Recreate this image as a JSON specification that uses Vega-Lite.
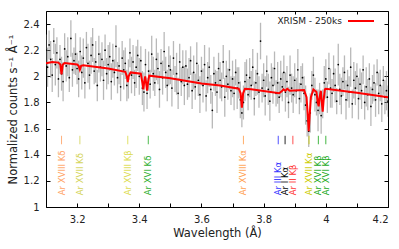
{
  "$schema": "https://vega.github.io/schema/vega-lite/v6.json",
  "width": 342,
  "height": 196,
  "autosize": "none",
  "padding": {"left": 46, "top": 11, "right": 11, "bottom": 42},
  "background": "white",
  "datasets": {
    "spec": [
      {"x":3.100,"y":2.20,"e":0.12},{"x":3.105,"y":2.07,"e":0.15},{"x":3.110,"y":2.24,"e":0.11},{"x":3.115,"y":2.13,"e":0.14},{"x":3.120,"y":2.01,"e":0.13},
      {"x":3.125,"y":2.27,"e":0.10},{"x":3.130,"y":2.09,"e":0.16},{"x":3.135,"y":2.18,"e":0.12},{"x":3.140,"y":1.98,"e":0.14},{"x":3.145,"y":2.13,"e":0.11},
      {"x":3.150,"y":2.02,"e":0.13},{"x":3.155,"y":1.96,"e":0.15},{"x":3.160,"y":2.21,"e":0.12},{"x":3.165,"y":2.08,"e":0.12},{"x":3.170,"y":2.15,"e":0.15},
      {"x":3.175,"y":1.99,"e":0.11},{"x":3.180,"y":2.29,"e":0.14},{"x":3.185,"y":2.05,"e":0.13},{"x":3.190,"y":2.12,"e":0.10},{"x":3.195,"y":2.17,"e":0.16},
      {"x":3.200,"y":2.06,"e":0.12},{"x":3.205,"y":1.98,"e":0.14},{"x":3.210,"y":2.19,"e":0.11},{"x":3.215,"y":2.03,"e":0.13},{"x":3.220,"y":2.14,"e":0.15},
      {"x":3.225,"y":1.95,"e":0.12},{"x":3.230,"y":2.22,"e":0.12},{"x":3.235,"y":2.10,"e":0.15},{"x":3.240,"y":2.01,"e":0.11},{"x":3.245,"y":2.16,"e":0.14},
      {"x":3.250,"y":2.24,"e":0.13},{"x":3.255,"y":2.04,"e":0.10},{"x":3.260,"y":2.11,"e":0.16},{"x":3.265,"y":1.93,"e":0.12},{"x":3.270,"y":2.17,"e":0.14},
      {"x":3.275,"y":2.07,"e":0.11},{"x":3.280,"y":2.13,"e":0.13},{"x":3.285,"y":1.97,"e":0.15},{"x":3.290,"y":2.20,"e":0.12},{"x":3.295,"y":2.02,"e":0.12},
      {"x":3.300,"y":2.09,"e":0.15},{"x":3.305,"y":2.15,"e":0.11},{"x":3.310,"y":1.96,"e":0.14},{"x":3.315,"y":2.12,"e":0.13},{"x":3.320,"y":2.03,"e":0.10},
      {"x":3.325,"y":2.23,"e":0.16},{"x":3.330,"y":1.99,"e":0.12},{"x":3.335,"y":2.08,"e":0.14},{"x":3.340,"y":1.92,"e":0.11},{"x":3.345,"y":2.14,"e":0.13},
      {"x":3.350,"y":2.05,"e":0.15},{"x":3.355,"y":2.10,"e":0.12},{"x":3.360,"y":1.93,"e":0.12},{"x":3.365,"y":1.98,"e":0.15},{"x":3.370,"y":2.18,"e":0.11},
      {"x":3.375,"y":2.01,"e":0.14},{"x":3.380,"y":2.11,"e":0.13},{"x":3.385,"y":1.95,"e":0.10},{"x":3.390,"y":2.07,"e":0.16},{"x":3.395,"y":2.16,"e":0.12},
      {"x":3.400,"y":2.00,"e":0.14},{"x":3.405,"y":2.12,"e":0.11},{"x":3.410,"y":1.91,"e":0.13},{"x":3.415,"y":1.88,"e":0.15},{"x":3.420,"y":2.09,"e":0.12},
      {"x":3.425,"y":1.87,"e":0.12},{"x":3.430,"y":2.04,"e":0.15},{"x":3.435,"y":1.94,"e":0.11},{"x":3.440,"y":2.17,"e":0.14},{"x":3.445,"y":2.02,"e":0.13},
      {"x":3.450,"y":1.95,"e":0.10},{"x":3.455,"y":2.13,"e":0.16},{"x":3.460,"y":2.06,"e":0.12},{"x":3.465,"y":1.90,"e":0.14},{"x":3.470,"y":2.10,"e":0.11},
      {"x":3.475,"y":1.99,"e":0.13},{"x":3.480,"y":2.19,"e":0.15},{"x":3.485,"y":2.03,"e":0.12},{"x":3.490,"y":1.93,"e":0.12},{"x":3.495,"y":2.08,"e":0.15},
      {"x":3.500,"y":2.05,"e":0.11},{"x":3.505,"y":1.91,"e":0.14},{"x":3.510,"y":2.14,"e":0.13},{"x":3.515,"y":1.98,"e":0.10},{"x":3.520,"y":2.02,"e":0.16},
      {"x":3.525,"y":1.87,"e":0.12},{"x":3.530,"y":2.11,"e":0.14},{"x":3.535,"y":1.96,"e":0.11},{"x":3.540,"y":2.07,"e":0.13},{"x":3.545,"y":1.93,"e":0.15},
      {"x":3.550,"y":2.08,"e":0.12},{"x":3.555,"y":1.94,"e":0.12},{"x":3.560,"y":1.99,"e":0.15},{"x":3.565,"y":2.12,"e":0.11},{"x":3.570,"y":1.89,"e":0.14},
      {"x":3.575,"y":2.03,"e":0.13},{"x":3.580,"y":1.92,"e":0.10},{"x":3.585,"y":2.10,"e":0.16},{"x":3.590,"y":1.97,"e":0.12},{"x":3.595,"y":1.86,"e":0.14},
      {"x":3.600,"y":2.04,"e":0.11},{"x":3.605,"y":1.93,"e":0.13},{"x":3.610,"y":2.09,"e":0.15},{"x":3.615,"y":1.85,"e":0.12},{"x":3.620,"y":1.99,"e":0.12},
      {"x":3.625,"y":2.07,"e":0.15},{"x":3.630,"y":1.90,"e":0.11},{"x":3.635,"y":1.74,"e":0.14},{"x":3.640,"y":2.02,"e":0.13},{"x":3.645,"y":1.95,"e":0.10},
      {"x":3.650,"y":1.88,"e":0.16},{"x":3.655,"y":2.06,"e":0.12},{"x":3.660,"y":1.97,"e":0.14},{"x":3.665,"y":1.92,"e":0.11},{"x":3.670,"y":2.11,"e":0.13},
      {"x":3.675,"y":1.84,"e":0.15},{"x":3.680,"y":2.00,"e":0.12},{"x":3.685,"y":1.94,"e":0.12},{"x":3.690,"y":2.05,"e":0.15},{"x":3.695,"y":1.89,"e":0.11},
      {"x":3.700,"y":1.98,"e":0.14},{"x":3.705,"y":1.87,"e":0.13},{"x":3.710,"y":2.03,"e":0.10},{"x":3.715,"y":1.91,"e":0.16},{"x":3.720,"y":1.95,"e":0.12},
      {"x":3.725,"y":1.82,"e":0.14},{"x":3.730,"y":1.72,"e":0.11},{"x":3.735,"y":1.80,"e":0.13},{"x":3.740,"y":1.96,"e":0.15},{"x":3.745,"y":2.01,"e":0.12},
      {"x":3.750,"y":1.86,"e":0.12},{"x":3.755,"y":1.99,"e":0.15},{"x":3.760,"y":1.93,"e":0.11},{"x":3.765,"y":2.07,"e":0.14},{"x":3.770,"y":1.83,"e":0.13},
      {"x":3.775,"y":1.95,"e":0.10},{"x":3.780,"y":2.02,"e":0.16},{"x":3.785,"y":1.88,"e":0.12},{"x":3.790,"y":2.27,"e":0.14},{"x":3.795,"y":1.91,"e":0.11},
      {"x":3.800,"y":1.97,"e":0.13},{"x":3.805,"y":1.85,"e":0.15},{"x":3.810,"y":2.04,"e":0.12},{"x":3.815,"y":1.90,"e":0.12},{"x":3.820,"y":1.81,"e":0.15},
      {"x":3.825,"y":1.99,"e":0.11},{"x":3.830,"y":1.93,"e":0.14},{"x":3.835,"y":2.06,"e":0.13},{"x":3.840,"y":1.87,"e":0.10},{"x":3.845,"y":1.95,"e":0.16},
      {"x":3.850,"y":1.84,"e":0.12},{"x":3.855,"y":1.98,"e":0.14},{"x":3.860,"y":1.92,"e":0.11},{"x":3.865,"y":2.03,"e":0.13},{"x":3.870,"y":1.88,"e":0.15},
      {"x":3.875,"y":1.96,"e":0.12},{"x":3.880,"y":1.80,"e":0.12},{"x":3.885,"y":2.01,"e":0.15},{"x":3.890,"y":1.91,"e":0.11},{"x":3.895,"y":1.86,"e":0.14},
      {"x":3.900,"y":1.97,"e":0.13},{"x":3.905,"y":1.89,"e":0.10},{"x":3.910,"y":2.05,"e":0.16},{"x":3.915,"y":1.83,"e":0.12},{"x":3.920,"y":1.94,"e":0.14},
      {"x":3.925,"y":1.99,"e":0.11},{"x":3.930,"y":1.87,"e":0.13},{"x":3.935,"y":1.78,"e":0.15},{"x":3.940,"y":1.66,"e":0.12},{"x":3.945,"y":1.58,"e":0.12},
      {"x":3.950,"y":1.72,"e":0.15},{"x":3.955,"y":1.93,"e":0.11},{"x":3.960,"y":2.01,"e":0.14},{"x":3.965,"y":1.86,"e":0.13},{"x":3.970,"y":1.80,"e":0.10},
      {"x":3.975,"y":1.74,"e":0.16},{"x":3.980,"y":1.83,"e":0.12},{"x":3.985,"y":1.70,"e":0.14},{"x":3.990,"y":1.79,"e":0.11},{"x":3.995,"y":1.95,"e":0.13},
      {"x":4.000,"y":1.98,"e":0.15},{"x":4.005,"y":1.84,"e":0.12},{"x":4.010,"y":2.06,"e":0.12},{"x":4.015,"y":1.91,"e":0.15},{"x":4.020,"y":1.87,"e":0.11},
      {"x":4.025,"y":2.02,"e":0.14},{"x":4.030,"y":1.93,"e":0.13},{"x":4.035,"y":1.81,"e":0.10},{"x":4.040,"y":2.09,"e":0.16},{"x":4.045,"y":1.90,"e":0.12},
      {"x":4.050,"y":1.85,"e":0.14},{"x":4.055,"y":1.96,"e":0.11},{"x":4.060,"y":2.03,"e":0.13},{"x":4.065,"y":1.82,"e":0.15},{"x":4.070,"y":1.93,"e":0.12},
      {"x":4.075,"y":1.88,"e":0.12},{"x":4.080,"y":2.07,"e":0.15},{"x":4.085,"y":1.79,"e":0.11},{"x":4.090,"y":1.97,"e":0.14},{"x":4.095,"y":1.91,"e":0.13},
      {"x":4.100,"y":2.00,"e":0.10},{"x":4.105,"y":1.83,"e":0.16},{"x":4.110,"y":1.94,"e":0.12},{"x":4.115,"y":1.89,"e":0.14},{"x":4.120,"y":2.05,"e":0.11},
      {"x":4.125,"y":1.80,"e":0.13},{"x":4.130,"y":1.92,"e":0.15},{"x":4.135,"y":1.86,"e":0.12},{"x":4.140,"y":1.98,"e":0.12},{"x":4.145,"y":1.77,"e":0.15},
      {"x":4.150,"y":1.90,"e":0.11},{"x":4.155,"y":1.95,"e":0.14},{"x":4.160,"y":1.82,"e":0.13},{"x":4.165,"y":2.03,"e":0.10},{"x":4.170,"y":1.87,"e":0.16},
      {"x":4.175,"y":1.93,"e":0.12},{"x":4.180,"y":1.79,"e":0.14},{"x":4.185,"y":1.97,"e":0.11},{"x":4.190,"y":1.84,"e":0.13},{"x":4.195,"y":1.89,"e":0.15},
      {"x":4.200,"y":1.81,"e":0.12}
    ],
    "model": [
      {"x":3.100,"y":2.100},{"x":3.120,"y":2.110},{"x":3.140,"y":2.105},{"x":3.146,"y":2.090},{"x":3.150,"y":2.015},{"x":3.154,"y":2.090},
      {"x":3.160,"y":2.102},{"x":3.200,"y":2.090},{"x":3.205,"y":2.080},{"x":3.209,"y":2.050},{"x":3.213,"y":2.080},{"x":3.220,"y":2.085},
      {"x":3.300,"y":2.060},{"x":3.355,"y":2.035},{"x":3.360,"y":2.000},{"x":3.363,"y":1.955},{"x":3.366,"y":2.000},{"x":3.372,"y":2.030},
      {"x":3.405,"y":2.020},{"x":3.410,"y":1.950},{"x":3.413,"y":1.900},{"x":3.416,"y":1.960},{"x":3.419,"y":2.000},{"x":3.422,"y":1.950},
      {"x":3.425,"y":1.890},{"x":3.428,"y":1.950},{"x":3.432,"y":2.005},{"x":3.500,"y":1.985},{"x":3.600,"y":1.945},{"x":3.660,"y":1.930},
      {"x":3.720,"y":1.905},{"x":3.726,"y":1.870},{"x":3.730,"y":1.760},{"x":3.734,"y":1.870},{"x":3.740,"y":1.905},{"x":3.760,"y":1.902},
      {"x":3.850,"y":1.870},{"x":3.858,"y":1.885},{"x":3.864,"y":1.900},{"x":3.870,"y":1.890},{"x":3.876,"y":1.905},{"x":3.884,"y":1.890},
      {"x":3.930,"y":1.895},{"x":3.938,"y":1.840},{"x":3.942,"y":1.700},{"x":3.945,"y":1.580},{"x":3.948,"y":1.700},{"x":3.952,"y":1.840},
      {"x":3.960,"y":1.900},{"x":3.970,"y":1.880},{"x":3.974,"y":1.800},{"x":3.977,"y":1.770},{"x":3.980,"y":1.840},{"x":3.984,"y":1.890},
      {"x":3.987,"y":1.800},{"x":3.990,"y":1.730},{"x":3.993,"y":1.820},{"x":3.997,"y":1.900},{"x":4.000,"y":1.905},{"x":4.100,"y":1.875},
      {"x":4.200,"y":1.840}
    ],
    "lines": [
      {"wl":3.150,"label":"Ar XVIII Kδ"},{"wl":3.209,"label":"Ar XVII Kδ"},{"wl":3.363,"label":"Ar XVIII Kβ"},{"wl":3.429,"label":"Ar XVI Kδ"},
      {"wl":3.735,"label":"Ar XVIII Kα"},{"wl":3.847,"label":"Ar III Kα"},{"wl":3.869,"label":"Ar I Kα"},{"wl":3.894,"label":"Ar II Kβ"},
      {"wl":3.946,"label":"Ar XVII Kα"},{"wl":3.976,"label":"Ar XVI Kβ"},{"wl":4.000,"label":"Ar XVI Kβ"}
    ]
  },
  "layer": [
    {
      "data": {"name": "spec"},
      "mark": {"type": "errorbar", "clip": true, "rule": {"color": "#8a8a8a", "opacity": 0.6, "strokeWidth": 1.3}},
      "encoding": {
        "x": {"field": "x", "type": "quantitative", "scale": {"domain": [3.1, 4.2], "nice": false, "zero": false},
              "axis": {"orient": "bottom", "values": [3.1,3.2,3.3,3.4,3.5,3.6,3.7,3.8,3.9,4.0,4.1,4.2], "format": "~g",
                       "labelExpr": "round(datum.value*10) % 2 == 0 ? datum.label : ''",
                       "tickSize": -4, "labelPadding": 11, "title": "Wavelength (Å)", "titlePadding": 3}},
        "y": {"field": "y", "type": "quantitative", "scale": {"domain": [1, 2.5], "nice": false, "zero": false},
              "axis": {"orient": "left", "values": [1,1.2,1.4,1.6,1.8,2,2.2,2.4], "format": "~g",
                       "tickSize": -4, "labelPadding": 11, "title": "Normalized counts s⁻¹ Å⁻¹", "titlePadding": 5}},
        "yError": {"field": "e"}
      }
    },
    {
      "data": {"name": "spec"},
      "mark": {"type": "circle", "size": 3, "color": "#000", "opacity": 1, "clip": true},
      "encoding": {
        "x": {"field": "x", "type": "quantitative", "scale": {"domain": [3.1, 4.2], "nice": false, "zero": false},
              "axis": {"orient": "top", "values": [3.1,3.2,3.3,3.4,3.5,3.6,3.7,3.8,3.9,4.0,4.1,4.2], "labels": false, "tickSize": -3, "title": null}},
        "y": {"field": "y", "type": "quantitative", "scale": {"domain": [1, 2.5], "nice": false, "zero": false},
              "axis": {"orient": "right", "values": [1,1.2,1.4,1.6,1.8,2,2.2,2.4], "labels": false, "tickSize": -4, "title": null}}
      }
    },
    {
      "data": {"name": "model"},
      "mark": {"type": "line", "strokeWidth": 2, "clip": true},
      "encoding": {
        "x": {"field": "x", "type": "quantitative", "axis": null},
        "y": {"field": "y", "type": "quantitative", "axis": null},
        "color": {"datum": "XRISM - 250ks", "type": "nominal", "scale": {"range": ["#ff0000"]},
                  "legend": {"orient": "none", "legendX": 301, "legendY": -4, "title": null, "padding": 0,
                             "symbolType": "stroke", "symbolSize": 676, "symbolStrokeWidth": 2,
                             "labelAlign": "right", "labelOffset": -33,
                             "labelFont": "DejaVu Sans", "labelFontSize": 9, "labelColor": "#222"}}
      }
    },
    {
      "data": {"name": "lines"},
      "mark": {"type": "rule", "strokeWidth": 1, "opacity": 0.85},
      "encoding": {
        "x": {"field": "wl", "type": "quantitative", "axis": null},
        "y": {"datum": 1.48, "type": "quantitative", "axis": null},
        "y2": {"datum": 1.545},
        "color": {"field": "label", "type": "nominal", "legend": null,
                  "scale": {"domain": ["Ar XVIII Kδ","Ar XVII Kδ","Ar XVIII Kβ","Ar XVI Kδ","Ar XVIII Kα","Ar III Kα","Ar I Kα","Ar II Kβ","Ar XVII Kα","Ar XVI Kβ"],
                            "range": ["#ffa366","#d4d45a","#dcdc50","#30b030","#ffa050","#3333ff","#000000","#ff3333","#cccc00","#22aa22"]}}
      }
    },
    {
      "data": {"name": "lines"},
      "mark": {"type": "text", "angle": 270, "align": "left", "baseline": "middle", "font": "DejaVu Sans", "fontSize": 8.5},
      "encoding": {
        "x": {"field": "wl", "type": "quantitative", "axis": null},
        "y": {"datum": 1.09, "type": "quantitative", "axis": null},
        "text": {"field": "label"},
        "color": {"field": "label", "type": "nominal", "legend": null,
                  "scale": {"domain": ["Ar XVIII Kδ","Ar XVII Kδ","Ar XVIII Kβ","Ar XVI Kδ","Ar XVIII Kα","Ar III Kα","Ar I Kα","Ar II Kβ","Ar XVII Kα","Ar XVI Kβ"],
                            "range": ["#ffa366","#d4d45a","#dcdc50","#30b030","#ffa050","#3333ff","#000000","#ff3333","#cccc00","#22aa22"]}}
      }
    }
  ],
  "resolve": {
    "scale": {"color": "independent"},
    "axis": {"x": "independent", "y": "independent"},
    "legend": {"color": "independent"}
  },
  "config": {
    "font": "DejaVu Sans",
    "view": {"stroke": "#000", "strokeWidth": 1},
    "axis": {
      "grid": false, "domain": false,
      "labelFont": "DejaVu Sans", "titleFont": "DejaVu Sans",
      "labelFontSize": 10, "titleFontSize": 11.5, "titleFontWeight": "normal",
      "labelColor": "#222", "titleColor": "#222", "tickColor": "#000"
    }
  }
}
